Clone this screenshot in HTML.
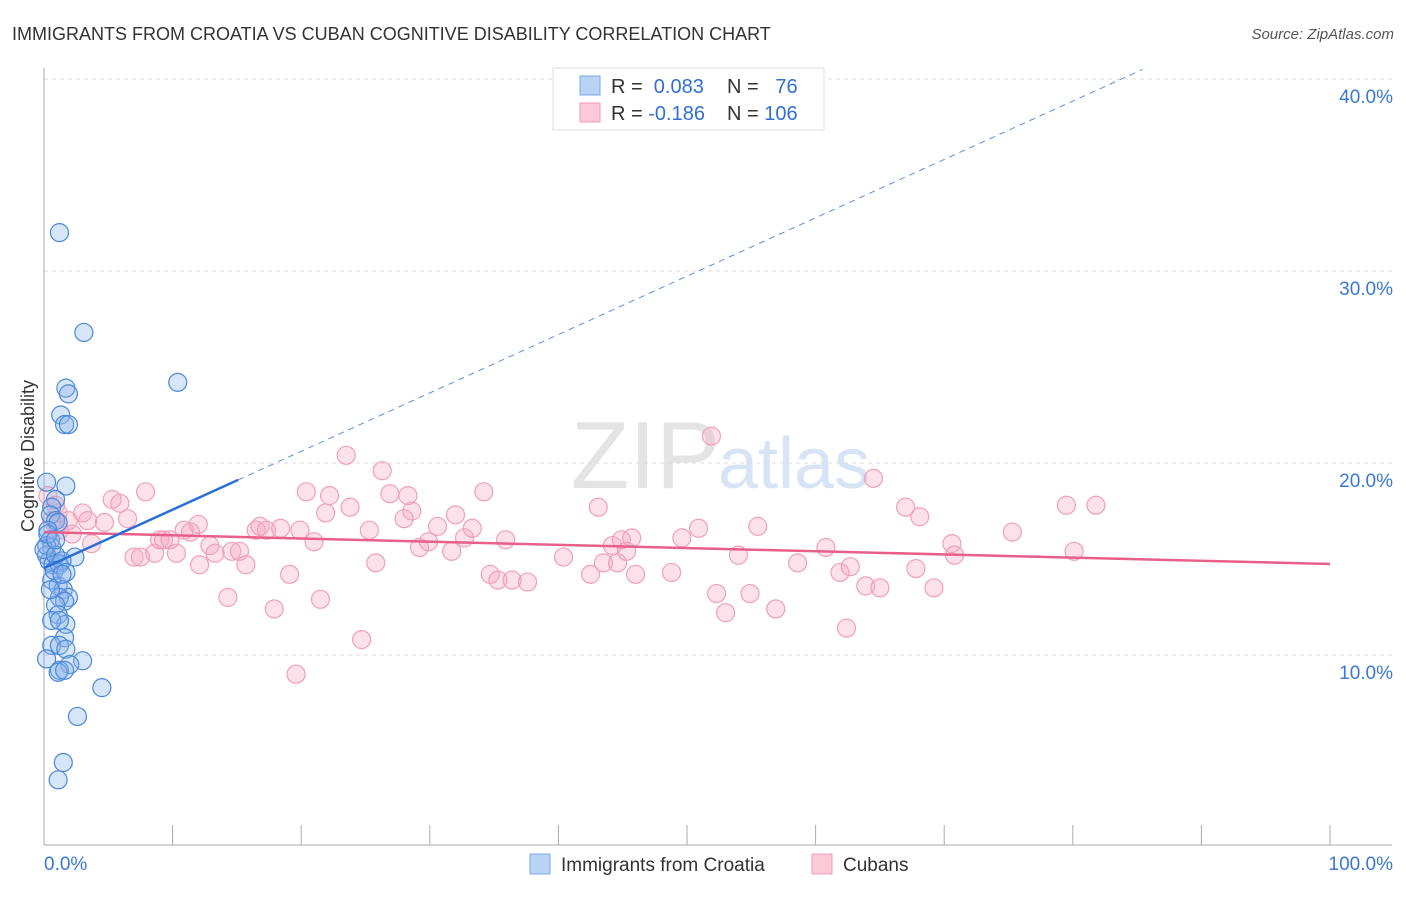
<!DOCTYPE html>
<html><head><meta charset="utf-8"><style>
body{margin:0;background:#fff;font-family:"Liberation Sans",sans-serif;}
svg text{font-family:"Liberation Sans",sans-serif;}
</style></head><body>
<svg id="c" width="1406" height="892">
<text x="12" y="40" font-size="18" fill="#333">IMMIGRANTS FROM CROATIA VS CUBAN COGNITIVE DISABILITY CORRELATION CHART</text>
<text x="1394" y="39" font-size="15" fill="#555" font-style="italic" text-anchor="end">Source: ZipAtlas.com</text>
<text x="720" y="488" font-size="96" fill="#e4e4e4" text-anchor="end" font-family="Liberation Serif">ZIP</text>
<text x="718" y="488" font-size="72" fill="#d6e4f5">atlas</text>
<text x="34" y="456" font-size="18" fill="#333" text-anchor="middle" transform="rotate(-90 34 456)">Cognitive Disability</text>
<g id="grid"></g><g id="marks"></g>
<g>
<rect x="553" y="68" width="271" height="62" fill="#fff" stroke="#ddd"/>
<rect x="580" y="76" width="20" height="19" fill="#b9d3f5" stroke="#7aa8e8"/>
<rect x="580" y="103" width="20" height="19" fill="#fbc9d8" stroke="#f09ab5"/>
<text x="611" y="93" font-size="20" fill="#333">R = <tspan fill="#3070d0">&#160;0.083</tspan></text>
<text x="727" y="93" font-size="20" fill="#333">N = <tspan fill="#3070d0">&#160;&#160;76</tspan></text>
<text x="611" y="120" font-size="20" fill="#333">R = <tspan fill="#3070d0">-0.186</tspan></text>
<text x="727" y="120" font-size="20" fill="#333">N = <tspan fill="#3070d0">106</tspan></text>
</g>
<g>
<rect x="530" y="854" width="20" height="20" fill="#b9d3f5" stroke="#7aa8e8"/>
<text x="561" y="871" font-size="19" fill="#333">Immigrants from Croatia</text>
<rect x="812" y="854" width="20" height="20" fill="#fbc9d8" stroke="#f09ab5"/>
<text x="843" y="871" font-size="19" fill="#333">Cubans</text>
</g>
</svg>
<script>
const yTicks=[10,20,30,40];
const xTickLabels=["0.0%","100.0%"];
const blueX=[1.2,3.1,10.4,1.7,1.9,1.3,1.6,1.9,1.7,0.2,0.9,0.6,0.5,0.9,1.1,0.3,0.5,0.6,0.2,0.4,0.7,1.1,1.2,2.4,0.2,0.0,0.9,1.4,0.6,1.1,1.5,1.9,1.2,1.6,0.9,1.1,1.7,0.6,1.2,1.6,0.6,1.2,1.7,0.2,3.0,2.0,1.2,1.1,1.6,4.5,2.6,1.5,1.1,0.8,0.3,0.9,0.5,1.7,1.4];
const blueY=[32.0,26.8,24.2,23.9,23.6,22.5,22.0,22.0,18.8,19.0,18.1,17.7,17.3,17.0,16.9,16.5,16.0,15.6,15.2,14.9,14.7,14.8,14.7,15.1,15.7,15.5,15.2,14.9,13.9,13.6,13.4,13.0,13.0,12.8,12.6,12.1,11.6,11.8,11.8,10.9,10.5,10.5,10.3,9.8,9.7,9.5,9.2,9.1,9.2,8.3,6.8,4.4,3.5,14.4,16.3,16.0,13.4,14.3,14.2];
const pinkX=[0.3,0.9,1.1,0.6,1.9,1.2,2.2,3.0,3.4,3.7,4.7,5.3,5.9,6.5,7.0,7.5,7.9,8.6,9.0,9.3,9.8,10.3,10.9,11.4,12.0,12.1,12.9,13.3,14.3,14.6,15.2,15.7,16.5,16.8,17.3,17.9,18.4,19.1,19.6,19.9,20.4,21.0,21.5,21.9,22.2,23.8,23.5,24.7,25.3,25.8,26.3,26.9,28.0,28.3,28.6,29.2,29.9,30.6,31.7,32.0,32.7,33.3,34.2,34.7,35.3,35.9,36.4,37.6,40.4,42.5,43.1,43.5,44.2,44.6,44.9,45.3,45.7,46.0,48.8,49.6,50.9,51.9,52.3,53.0,54.0,54.9,55.5,56.9,58.6,60.8,61.9,62.4,62.7,63.9,64.5,65.0,67.0,67.8,68.1,69.2,70.6,70.8,75.3,79.5,80.1,81.8];
const pinkY=[18.3,17.8,17.4,17.0,17.0,16.5,16.3,17.4,17.0,15.8,16.9,18.1,17.9,17.1,15.1,15.1,18.5,15.3,16.0,16.0,16.0,15.3,16.5,16.4,16.8,14.7,15.7,15.3,13.0,15.4,15.4,14.7,16.5,16.7,16.5,12.4,16.6,14.2,9.0,16.5,18.5,15.9,12.9,17.4,18.3,17.7,20.4,10.8,16.5,14.8,19.6,18.4,17.1,18.3,17.5,15.6,15.9,16.7,15.4,17.3,16.1,16.6,18.5,14.2,13.9,16.0,13.9,13.8,15.1,14.2,17.7,14.8,15.7,14.8,16.0,15.4,16.1,14.2,14.3,16.1,16.6,21.4,13.2,12.2,15.2,13.2,16.7,12.4,14.8,15.6,14.3,11.4,14.6,13.6,19.2,13.5,17.7,14.5,17.2,13.5,15.8,15.2,16.4,17.8,15.4,17.8];
const blueFit=[14.53,0.304]; const blueSolidEnd=15.1;
const pinkFit=[16.4,-0.0166];
const X=v=>44+v*12.86, Y=v=>847-v*19.2;
const NS="http://www.w3.org/2000/svg";
function mk(t,a,p){const e=document.createElementNS(NS,t);for(const k in a)e.setAttribute(k,a[k]);p.appendChild(e);return e;}
const g=document.getElementById('grid'), m=document.getElementById('marks');
yTicks.forEach(t=>{
 const l=mk('line',{x1:44,x2:1392,y1:Y(t),y2:Y(t),stroke:'#ddd','stroke-dasharray':'4,4'},g);
 
 
 const tx=mk('text',{x:1393,y:Y(t)+24,'font-size':19,fill:'#3a78d4','text-anchor':'end'},g);
 tx.textContent=t.toFixed(1)+'%';
 
 
});
mk('line',{x1:44,x2:44,y1:68,y2:845,stroke:'#aaa'},g);
mk('line',{x1:44,x2:1392,y1:845,y2:845,stroke:'#aaa'},g);
for(let i=0;i<=10;i++){mk('line',{x1:X(i*10),x2:X(i*10),y1:825,y2:845,stroke:'#aaa'},g);}
const xl0=mk('text',{x:44,y:870,'font-size':19,fill:'#3a78d4'},g);xl0.textContent=xTickLabels[0];


const xl1=mk('text',{x:1393,y:870,'font-size':19,fill:'#3a78d4','text-anchor':'end'},g);xl1.textContent=xTickLabels[1];


pinkX.forEach((x,i)=>{const c=mk('circle',{cx:X(x),cy:Y(pinkY[i]),r:9,fill:'rgba(246,170,195,0.35)',stroke:'#f0a0b8','stroke-width':1.2},m);
 
 });
blueX.forEach((x,i)=>{const c=mk('circle',{cx:X(x),cy:Y(blueY[i]),r:9,fill:'rgba(140,180,235,0.35)',stroke:'#4a88dc','stroke-width':1.2},m);
 
 });
const pl=mk('line',{x1:X(0),y1:Y(pinkFit[0]),x2:X(100),y2:Y(pinkFit[0]+pinkFit[1]*100),stroke:'#e8608a','stroke-width':2.5},m);


const bl=mk('line',{x1:X(0),y1:Y(blueFit[0]),x2:X(blueSolidEnd),y2:Y(blueFit[0]+blueFit[1]*blueSolidEnd),stroke:'#2a6fd6','stroke-width':2.5},m);


const xe=(40.5-blueFit[0])/blueFit[1];
const bd=mk('line',{x1:X(blueSolidEnd),y1:Y(blueFit[0]+blueFit[1]*blueSolidEnd),x2:X(xe),y2:Y(40.5),stroke:'#5a90dc','stroke-width':1,'stroke-dasharray':'6,5'},m);


</script>
</body></html>
